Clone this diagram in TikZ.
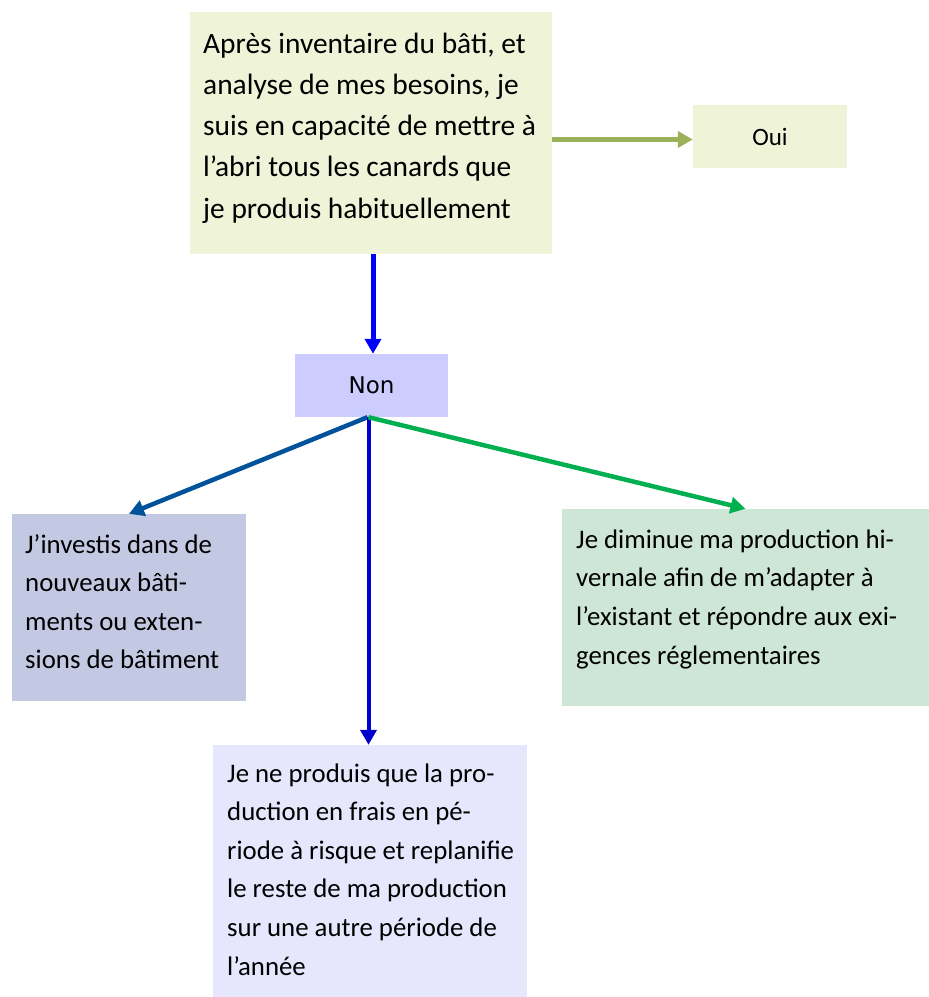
\documentclass[tikz,border=0pt]{standalone}
\usepackage{fontspec}
\setmainfont{Carlito}
\newfontfamily\dejavu{DejaVu Sans}
\usetikzlibrary{arrows.meta,calc}
\definecolor{cq}{RGB}{239,243,216}
\definecolor{cnon}{RGB}{204,204,255}
\definecolor{cinv}{RGB}{195,201,227}
\definecolor{cdim}{RGB}{206,230,213}
\definecolor{cprod}{RGB}{230,230,252}
\definecolor{aolive}{RGB}{155,177,90}
\definecolor{ablue}{RGB}{0,0,255}
\definecolor{adark}{RGB}{0,82,155}
\definecolor{avert}{RGB}{0,0,204}
\definecolor{agreen}{RGB}{0,176,80}
\begin{document}
\begin{tikzpicture}[x=1pt,y=-1pt,
  boxnode/.style={rectangle, inner sep=0pt, draw=none},
  bigtxt/.style={anchor=base west, inner sep=0pt, align=left, font=\fontsize{29.4}{41.3}\selectfont},
  smalltxt/.style={anchor=base west, inner sep=0pt, align=left, font=\fontsize{26.8}{38.6}\selectfont},
  conn/.style={-{Triangle[length=15pt,width=16pt]}},
]
\useasboundingbox (0,0) rectangle (929,997);
% boxes
\node[boxnode, fill=cq, minimum width=362pt, minimum height=242pt] (q) at (371,133) {};
\node[boxnode, fill=cq, minimum width=154pt, minimum height=63pt] (oui) at (770,136.5) {};
\node[boxnode, fill=cnon, minimum width=153pt, minimum height=63pt] (non) at (371.5,385.5) {};
\node[boxnode, fill=cinv, minimum width=234pt, minimum height=187pt] (inv) at (129,607.5) {};
\node[boxnode, fill=cdim, minimum width=367pt, minimum height=197pt] (dim) at (745.5,607.5) {};
\node[boxnode, fill=cprod, minimum width=314pt, minimum height=252pt] (prod) at (370,871) {};
% texts (anchored at the baseline of the last line)
\node[bigtxt] (tq) at (203,218.2) {Après inventaire du bâti, et\\analyse de mes besoins, je\\suis en capacité de mettre à\\l’abri tous les canards que\\je produis habituellement};
\node[font=\fontsize{25}{30}\selectfont, inner sep=0pt] (toui) at (oui.center) {Oui};
\node[font=\dejavu\fontsize{23}{28}\selectfont, inner sep=0pt] (tnon) at (non.center) {Non};
\node[smalltxt] (tinv) at (25,668.8) {J’investis dans de\\nouveaux bâti-\\ments ou exten-\\sions de bâtiment};
\node[smalltxt] (tdim) at (576,664) {Je diminue ma production hi-\\vernale afin de m’adapter à\\l’existant et répondre aux exi-\\gences réglementaires};
\node[smalltxt] (tprod) at (227,975) {Je ne produis que la pro-\\duction en frais en pé-\\riode à risque et replanifie\\le reste de ma production\\sur une autre période de\\l’année};
% connectors
\draw[conn, aolive, line width=5pt] ($(q.east |- oui.west)+(0,3)$) -- ($(oui.west)+(0,3)$);
\draw[conn, ablue, line width=5pt] ($(q.south)+(2,0)$) -- ($(non.north)+(1.5,0)$);
\draw[conn, adark, line width=4.5pt] ($(non.south)+(-4,0)$) -- (inv.north);
\draw[conn, avert, line width=4pt] ($(non.south)+(-3,0)$) -- ($(non.south |- prod.north)+(-3,0)$);
\draw[conn, agreen, line width=4.5pt] ($(non.south)+(-3,0)$) -- (dim.north);
\end{tikzpicture}
\end{document}
